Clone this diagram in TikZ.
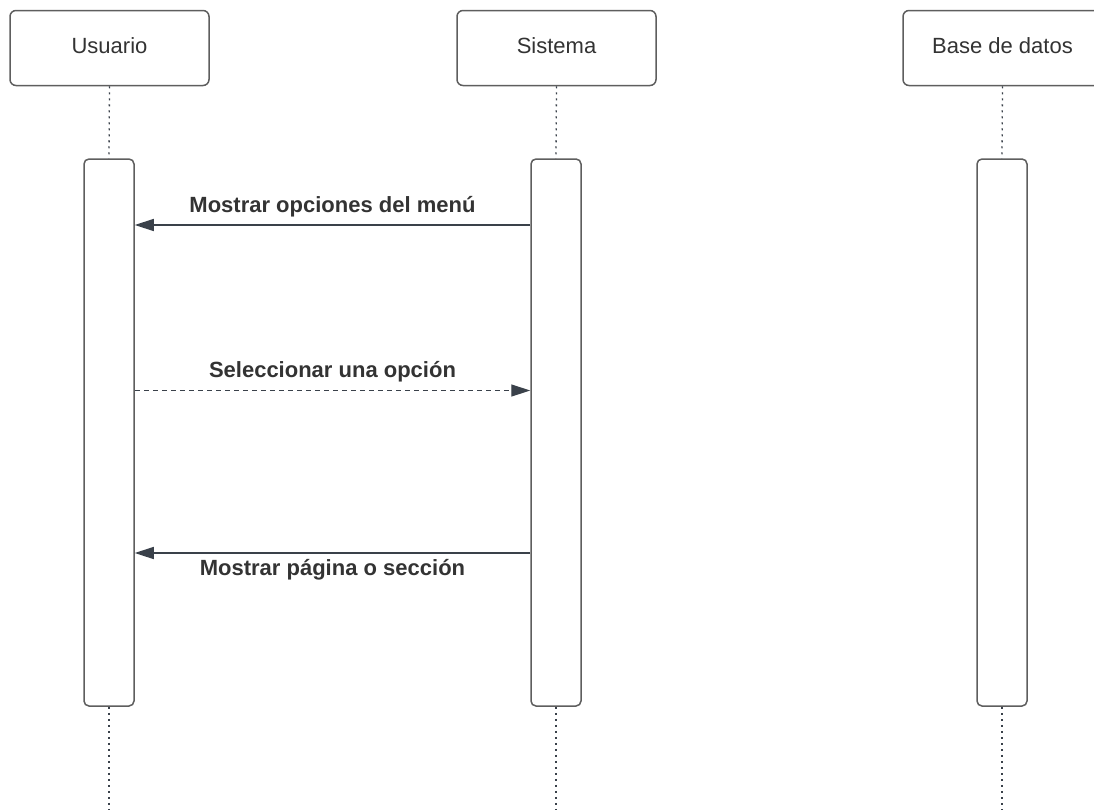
\documentclass[tikz,border=0pt]{standalone}
\usepackage{fontspec}
\setmainfont{Liberation Sans}
\usetikzlibrary{arrows.meta}
\definecolor{boxline}{HTML}{5E5E5E}
\definecolor{arrline}{HTML}{3A414A}
\definecolor{txt}{HTML}{333333}
\tikzset{
  header/.style={draw=boxline, line width=1.5pt, rounded corners=6pt, fill=white,
    minimum width=199pt, minimum height=75pt, inner sep=0pt, text=txt,
    font=\fontsize{22}{26}\selectfont},
  actbar/.style={draw=boxline, line width=1.5pt, rounded corners=5pt, fill=white,
    minimum width=50pt, minimum height=547pt, inner sep=0pt},
  lifeline/.style={draw=arrline, line width=1.3pt, dash pattern=on 2pt off 4pt},
  msg/.style={draw=arrline, line width=1.4pt, -{Triangle[length=19pt,width=12pt]}},
  reply/.style={msg, dash pattern=on 5pt off 4pt},
  lbl/.style={text=txt, font=\bfseries\fontsize{22}{26}\selectfont, inner sep=0pt, anchor=base}
}
\begin{document}
\begin{tikzpicture}[x=1pt,y=-1pt]
\useasboundingbox (0,0) rectangle (1094,809);
% headers
\node[header] (hu) at (109.5,48) {\raisebox{4pt}{Usuario}};
\node[header] (hs) at (556.5,48) {\raisebox{4pt}{Sistema}};
\node[header] (hd) at (1002.5,48) {\raisebox{4pt}{Base de datos}};
% bottom coordinates of lifelines
\coordinate (bu) at (109,809);
\coordinate (bs) at (556,809);
\coordinate (bd) at (1002,809);
% activation bars
\node[actbar] (au) at (109,432.5) {};
\node[actbar] (as) at (556,432.5) {};
\node[actbar] (ad) at (1002,432.5) {};
% lifelines
\draw[lifeline] (hu.south) -- (au.north);
\draw[lifeline] (hs.south) -- (as.north);
\draw[lifeline] (hd.south) -- (ad.north);
\draw[lifeline] (au.south) -- (bu);
\draw[lifeline] (as.south) -- (bs);
\draw[lifeline] (ad.south) -- (bd);
% message levels
\coordinate (y1) at (0,225);
\coordinate (y2) at (0,390.5);
\coordinate (y3) at (0,553);
\draw[msg] (as.west |- y1) -- (au.east |- y1);
\draw[reply] (au.east |- y2) -- (as.west |- y2);
\draw[msg] (as.west |- y3) -- (au.east |- y3);
% labels
\node[lbl] (l1) at (332.5,212) {Mostrar opciones del menú};
\node[lbl] (l2) at (332.5,377) {Seleccionar una opción};
\node[lbl] (l3) at (332.5,575) {Mostrar página o sección};
\end{tikzpicture}
\end{document}
